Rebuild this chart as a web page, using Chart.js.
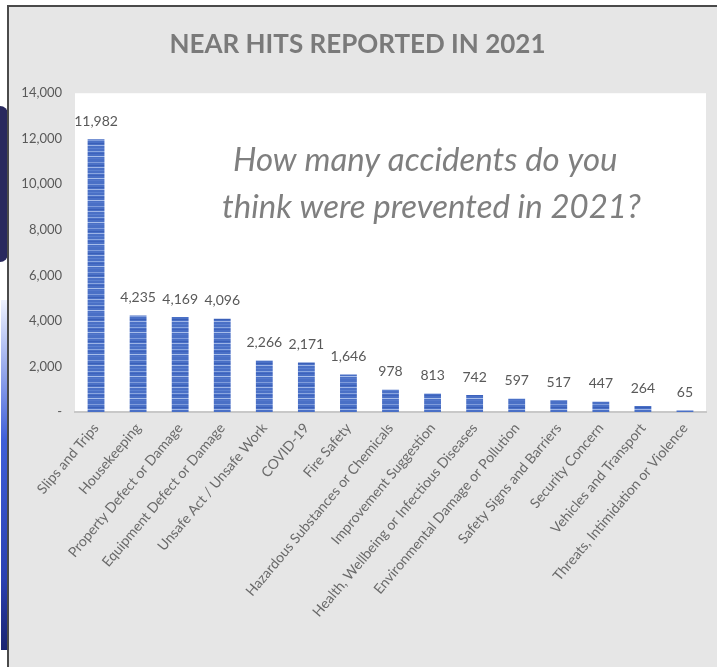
<!DOCTYPE html>
<html>
<head>
<meta charset="utf-8">
<script src="https://cdn.jsdelivr.net/npm/chart.js@4.4.1/dist/chart.umd.min.js"></script>
<style>
  html, body { margin: 0; padding: 0; background: #fff; width: 717px; height: 667px; overflow: hidden; }
  .navy { position: absolute; left: 0; top: 106px; width: 8px; height: 156px; background: #29295e; border-radius: 0 8px 8px 0; }
  .streak { position: absolute; left: 1px; top: 300px; width: 6px; height: 350px;
            background: linear-gradient(#eef2ff, #3f5fd8 40%, #2a3fb0 80%, #1a2470); }
  .panel { position: absolute; left: 7px; top: 5px; width: 710px; height: 662px;
           border-top: 2px solid #4a4a4a; border-left: 2px solid #4a4a4a; background: #e6e6e6; }
  canvas { display: block; }
</style>
</head>
<body>
<div class="navy"></div>
<div class="streak"></div>
<div class="panel">
  <canvas id="chart" width="708" height="660"></canvas>
</div>
<script>
// Datos
const categorias = [
  'Slips and Trips', 'Housekeeping', 'Property Defect or Damage', 'Equipment Defect or Damage',
  'Unsafe Act / Unsafe Work', 'COVID-19', 'Fire Safety', 'Hazardous Substances or Chemicals',
  'Improvement Suggestion', 'Health, Wellbeing or Infectious Diseases',
  'Environmental Damage or Pollution', 'Safety Signs and Barriers', 'Security Concern',
  'Vehicles and Transport', 'Threats, Intimidation or Violence'
];
const incidentes = [11982, 4235, 4169, 4096, 2266, 2171, 1646, 978, 813, 742, 597, 517, 447, 264, 65];
const ticksY = [0, 2000, 4000, 6000, 8000, 10000, 12000, 14000];
const pregunta = ['How many accidents do you', 'think were prevented in 2021?'];

const gris = '#595959';

// Textura rayada de las barras
function patronBarras(ctx) {
  const c = document.createElement('canvas');
  c.width = 4; c.height = 22;
  const p = c.getContext('2d');
  p.fillStyle = '#4a70c6';
  p.fillRect(0, 0, 4, 22);
  const rayas = [[1, '#7f9cdc'], [4, '#3a5fb8'], [6, '#9db4e6'], [9, '#5b80d0'], [12, '#8aa6e0'],
                 [14, '#3d62bd'], [17, '#a7bdea'], [19, '#5478cb']];
  rayas.forEach(([y, col]) => { p.fillStyle = col; p.fillRect(0, y, 4, 1); });
  return ctx.createPattern(c, 'repeat');
}

const ctx = document.getElementById('chart').getContext('2d');

const fondoBlanco = {
  id: 'fondoBlanco',
  beforeDraw(chart) {
    const { ctx, chartArea: a } = chart;
    ctx.save();
    ctx.fillStyle = '#ffffff';
    ctx.fillRect(a.left, a.top, a.right - a.left, a.bottom - a.top);
    ctx.restore();
  }
};

const etiquetas = {
  id: 'etiquetas',
  afterDatasetsDraw(chart) {
    const { ctx } = chart;
    const meta = chart.getDatasetMeta(0);
    ctx.save();
    ctx.font = '14px Lato';
    ctx.fillStyle = gris;
    ctx.textAlign = 'center';
    ctx.textBaseline = 'bottom';
    meta.data.forEach((bar, i) => {
      ctx.fillText(incidentes[i].toLocaleString('en-US'), bar.x, bar.y - 11);
    });
    // Pregunta en cursiva
    const a = chart.chartArea;
    ctx.font = 'italic 33px Lato';
    ctx.fillStyle = '#7f7f7f';
    ctx.textAlign = 'left';
    ctx.textBaseline = 'middle';
    ctx.fillText(pregunta[0], a.left + 158, a.top + 67);
    ctx.fillText(pregunta[1], a.left + 147, a.top + 114);
    ctx.restore();
  }
};

new Chart(ctx, {
  type: 'bar',
  data: {
    labels: categorias,
    datasets: [{
      data: incidentes,
      backgroundColor: patronBarras(ctx),
      borderWidth: 0,
      categoryPercentage: 1,
      barPercentage: 0.4
    }]
  },
  options: {
    responsive: false,
    animation: false,
    layout: { padding: { left: 0, right: 11, top: 0, bottom: 0 } },
    plugins: {
      legend: { display: false },
      tooltip: { enabled: false },
      title: {
        display: true,
        text: 'NEAR HITS REPORTED IN 2021',
        color: '#7a7a7a',
        font: { family: 'Lato', size: 26, weight: 'bold' },
        padding: { top: 22, bottom: 33 }
      }
    },
    scales: {
      y: {
        min: 0, max: 14000,
        afterFit: s => { s.width = 66; },
        afterBuildTicks: s => { s.ticks = ticksY.map(v => ({ value: v })); },
        border: { display: false },
        grid: { display: false, drawTicks: false },
        ticks: {
          padding: 13,
          color: gris,
          font: { family: 'Lato', size: 13 },
          callback: v => v === 0 ? '-' : v.toLocaleString('en-US')
        }
      },
      x: {
        afterFit: s => { s.height = 255; },
        border: { display: true, color: '#c8c8c8', width: 2 },
        grid: { display: false, drawTicks: false },
        ticks: {
          autoSkip: false,
          minRotation: 50, maxRotation: 50,
          padding: 8,
          color: '#6a6a6a',
          font: { family: 'Lato', size: 14 }
        }
      }
    }
  },
  plugins: [fondoBlanco, etiquetas]
});
</script>
</body>
</html>
